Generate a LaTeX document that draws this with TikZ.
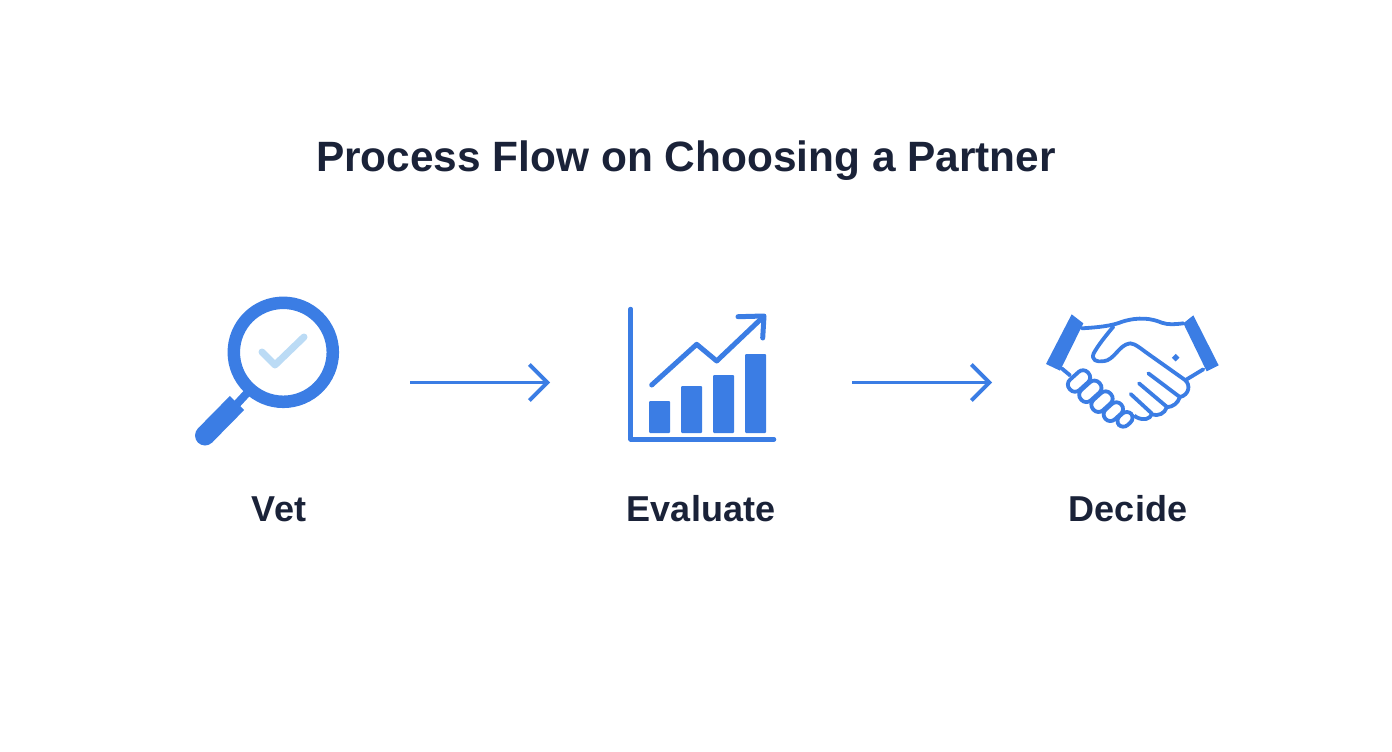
\documentclass[tikz,border=0pt]{standalone}
\usepackage{fontspec}
\setmainfont{Liberation Sans}
\usetikzlibrary{arrows.meta}
\definecolor{iconblue}{HTML}{3B7DE4}
\definecolor{checkblue}{HTML}{BBDBF5}
\definecolor{inktext}{HTML}{1A2238}
\tikzset{
  titletext/.style={anchor=base,text=inktext,font=\fontsize{42.4}{42.4}\selectfont\bfseries,inner sep=0pt},
  steptext/.style={anchor=base,text=inktext,font=\fontsize{36}{36}\selectfont\bfseries,inner sep=0pt},
  flowarrow/.style={draw=iconblue,line width=3.8pt,-{Straight Barb[length=18pt,width=36pt,line width=3.8pt]}},
  hand/.style={draw=iconblue,line width=3.8pt,line cap=round,line join=round},
  chartline/.style={draw=iconblue,line width=5pt,line cap=round,line join=round},
  finger/.style={draw=iconblue,fill=white,line width=3.8pt,rounded corners=6.5pt},
}
\begin{document}
\begin{tikzpicture}[x=1pt,y=-1pt]
\useasboundingbox (0,0) rectangle (1392,752);
\node[titletext] (title) at (686,171) {Process Flow on Choosing a Partner};
\node[steptext] (vet) at (279,521) {Vet};
\node[steptext] (evaluate) at (701,521) {Evaluate};
\node[steptext] (decide) at (1128,521) {Decide};
% magnifier
\draw[iconblue,line width=12.5pt] (283.3,352.3) circle (49.5);
\draw[iconblue,line width=8pt] (236,405) -- (248,392);
\draw[iconblue,line width=20pt] (205,435.5) -- (237,403);
\fill[iconblue] (205,435.5) circle (10);
\draw[checkblue,line width=7pt,line cap=round,line join=round] (262,352) -- (275,365) -- (304,337);
% chart
\draw[chartline,line width=4.5pt] (630.7,309) -- (630.7,439.3) -- (774,439.3);
\fill[iconblue,rounded corners=1pt] (649,401) rectangle (670,433);
\fill[iconblue,rounded corners=1pt] (681,386) rectangle (702,433);
\fill[iconblue,rounded corners=1pt] (713,375) rectangle (734,433);
\fill[iconblue,rounded corners=1pt] (745,354) rectangle (766,433);
\draw[chartline] (651.7,385) -- (696.7,344.3) -- (716.7,361) -- (761.7,318.3);
\draw[chartline] (738,316.7) -- (764,316) -- (762.7,338);
% handshake
\begin{scope}[shift={(1035,300)},scale=1/3]
  \fill[iconblue] (110,43) -- (145,70) -- (75,212) -- (33,192) -- cycle;
  \fill[iconblue] (475,46) -- (445,70) -- (515,214) -- (551,196) -- cycle;
  \draw[hand] (140,85) .. controls (190,82) and (230,78) .. (262,65)
     .. controls (310,50) and (350,55) .. (380,68) .. controls (400,75) and (420,73) .. (445,70);
  \draw[hand] (80,205) -- (105,226);
  \draw[hand] (452,240) -- (505,208);
  % right hand outline
  \draw[hand,fill=white] (235,80) .. controls (210,110) and (190,135) .. (176,160)
     .. controls (168,180) and (185,187) .. (205,184)
     .. controls (240,180) and (250,135) .. (285,130)
     .. controls (300,130) and (320,148) .. (340,162)
     -- (450,240) .. controls (468,255) and (462,285) .. (435,291)
     .. controls (428,310) and (415,320) .. (395,322)
     .. controls (390,340) and (370,350) .. (350,343)
     .. controls (345,358) and (325,362) .. (305,352)
     -- (258,318) -- (190,210);
  \fill[white] (185,190) -- (160,225) -- (255,325) -- (300,345) -- (300,290) -- (250,190) -- cycle;
  \draw[hand] (340,220) -- (433,290);
  \draw[hand] (312,250) -- (395,320);
  \draw[hand] (287,282) -- (350,340);
  % left fist
  \foreach \cx/\cy/\w/\h in {132/243/74/21,166/274/74/21,201/305/70/21,235/335/64/20,270/358/50/18}{
    \begin{scope}[shift={(\cx,\cy)},rotate=42]
      \draw[finger] (-\w/2,-\h) rectangle (\w/2,\h);
    \end{scope}
  }
  \fill[iconblue,rotate around={45:(422,173)}] (414,165) rectangle (430,181);
\end{scope}
% connectors
\coordinate (a1s) at (410,382.5);
\coordinate (a1e) at (550,382.5);
\coordinate (a2s) at (852,382.5);
\coordinate (a2e) at (992,382.5);
\draw[flowarrow] (a1s) -- (a1e);
\draw[flowarrow] (a2s) -- (a2e);
\end{tikzpicture}
\end{document}
